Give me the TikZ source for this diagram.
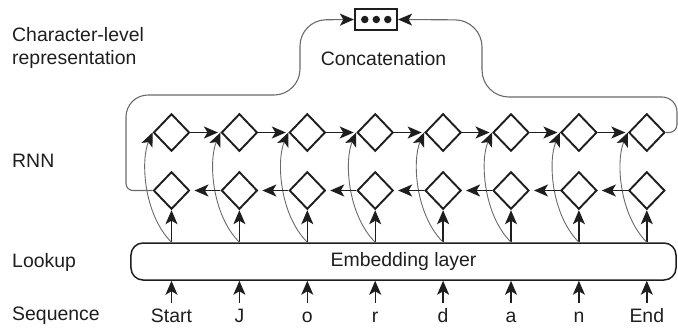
\documentclass[tikz,border=0pt]{standalone}
\usepackage{fontspec}
\setmainfont{Liberation Sans}
\usetikzlibrary{shapes.geometric,arrows.meta,calc}

\definecolor{ink}{HTML}{1E1E1E}
\definecolor{wire}{HTML}{6A6A6A}

\tikzset{
  txt/.style={font=\fontsize{19.5}{23}\selectfont, text=ink, inner sep=0pt},
  cell/.style={diamond, draw=ink, line width=1.9bp, minimum width=36bp,
               minimum height=37.5bp, inner sep=0pt, fill=white},
  tip/.style={-{Stealth[length=14bp,width=12bp,inset=3.5bp,color=ink]}},
  flow/.style={tip, draw=ink, line width=1.4bp},
  feed/.style={tip, draw=wire, line width=0.9bp},
  outwire/.style={draw=wire, line width=1.1bp},
  seqlab/.style={txt, anchor=base, text height=19bp, text depth=0pt},
  dot/.style={circle, fill=ink, inner sep=0pt, minimum size=7.5bp}
}

\begin{document}
\begin{tikzpicture}[x=1bp, y=-1bp]
\useasboundingbox (0,0) rectangle (678,327);

% row labels
\node[txt, anchor=west, align=left] (lchar) at (12,48) {Character-level\\representation};
\node[txt, anchor=west] (lrnn) at (12,161) {RNN};
\node[txt, anchor=west] (llook) at (12,262) {Lookup};
\node[txt, anchor=west] (lseq) at (12,316) {Sequence};

% embedding layer
\node[txt, draw=ink, line width=1.5bp, rounded corners=12bp,
      minimum width=545bp, minimum height=37bp] (emb) at (403.5,261.5) {Embedding layer};

% concatenation
\node[draw=ink, line width=2.2bp, minimum width=42bp, minimum height=21bp, inner sep=0pt] (cat) at (376,19.5) {};
\node[dot] (dot1) at (364.8,19.5) {};
\node[dot] (dot2) at (376.3,19.5) {};
\node[dot] (dot3) at (387.8,19.5) {};
\node[txt] (ctext) at (383.5,59) {Concatenation};

% columns: characters, lookup, backward and forward cells
\foreach \ch [count=\n from 0] in {Start,J,o,r,d,a,n,End}{
  \pgfmathsetmacro{\xx}{171.5+67.9*\n}
  \node[seqlab] (s\n) at (\xx,322) {\ch};
  \node[cell] (b\n) at (\xx,190.5) {};
  \node[cell] (t\n) at (\xx,132.5) {};
  \draw[flow] (s\n.north) -- (s\n.north |- emb.south);
  \draw[flow] (emb.north -| b\n) -- (b\n.south);
  \draw[feed] (emb.north -| t\n) .. controls +(-28,-28) and +(-12,27.5) .. (t\n.west);
}

% recurrent connections
\foreach \n [evaluate=\n as \m using int(\n+1)] in {0,...,6}{
  \draw[flow, shorten >=2.5bp] (t\n.east) -- (t\m.west);
  \draw[flow, shorten >=4bp] (b\m.west) -- (b\n.east);
}

% final states into the concatenation
\draw[outwire, tip] (b0.west) [rounded corners=7bp] -- (126,190.5)
   [rounded corners=22bp] -- (126,95) [rounded corners=26bp] -- (300,95) -- (300,20) -- (cat.west);
\draw[outwire, tip] (t7.east) [rounded corners=8bp] -- (677,132.5)
   [rounded corners=15bp] -- (677,97) [rounded corners=27bp] -- (482,97) -- (482,20) -- (cat.east);
\end{tikzpicture}
\end{document}
